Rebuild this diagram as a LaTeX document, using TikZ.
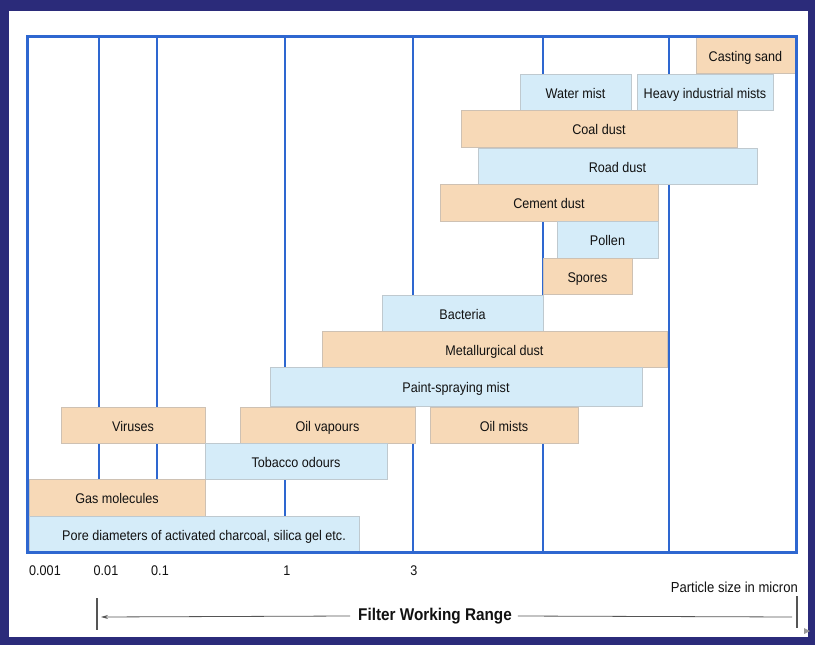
\documentclass[tikz,border=0pt]{standalone}
\usepackage{fontspec}
\setmainfont{Liberation Sans}[FakeStretch=0.9]
\usetikzlibrary{arrows.meta}
\definecolor{navy}{HTML}{2B2B7A}
\definecolor{frameblue}{HTML}{2E67D0}
\definecolor{obox}{HTML}{F7D9B7}
\definecolor{bbox}{HTML}{D5ECF9}
\definecolor{txt}{HTML}{111111}
\definecolor{rangegray}{HTML}{555555}
\tikzset{
  barbase/.style={inner sep=0pt, outer sep=0pt, line width=0.6pt, text=txt,
    text height=12pt, text depth=0pt,
    font=\fontsize{14}{16}\selectfont},
  orangebar/.style={barbase, fill=obox, draw=obox!70!black!60},
  bluebar/.style={barbase, fill=bbox, draw=bbox!70!black!60},
  gridline/.style={frameblue, line width=2pt},
  axislabel/.style={inner sep=0pt, text=txt, font=\fontsize{14}{16}\selectfont},
  rangeline/.style={rangegray, line width=0.8pt},
  rangebar/.style={rangegray, line width=2.2pt}
}
\newcommand{\bx}[7]{%
  \node[#2, minimum width={(#5-#3)*1pt}, minimum height={(#6-#4)*1pt}]
    (#1) at ({(#3+#5)/2},{(#4+#6)/2}) {#7};}
\begin{document}
\begin{tikzpicture}[x=1pt,y=-1pt]
\useasboundingbox (0,0) rectangle (815,645);
\fill[navy] (0,0) rectangle (815,645);
\fill[white] (9,11) rectangle (808,637);
% grid lines
\foreach \gx/\gn in {99/ga,157/gb,285/gc,413/gd,543/ge,669/gf}{
  \coordinate (\gn t) at (\gx,35);
  \coordinate (\gn b) at (\gx,552);
  \draw[gridline] (\gn t) -- (\gn b);
}
% bars
\bx{casting}{orangebar}{696}{37}{795}{73}{Casting sand}
\bx{water}{bluebar}{520}{74}{631}{110}{Water mist}
\bx{heavy}{bluebar}{637}{74}{773}{110}{Heavy industrial mists}
\bx{coal}{orangebar}{461}{110}{737}{147}{Coal dust}
\bx{road}{bluebar}{478}{148}{757}{184}{Road dust}
\bx{cement}{orangebar}{440}{184}{658}{221}{Cement dust}
\bx{pollen}{bluebar}{557}{221}{658}{258}{Pollen}
\bx{spores}{orangebar}{543}{258}{632}{294}{Spores}
\bx{bacteria}{bluebar}{382}{295}{543}{331}{Bacteria}
\bx{metal}{orangebar}{322}{331}{667}{367}{Metallurgical dust}
\bx{paint}{bluebar}{270}{367}{642}{406}{Paint-spraying mist}
\bx{viruses}{orangebar}{61}{407}{205}{443}{Viruses}
\bx{oilvap}{orangebar}{240}{407}{415}{443}{Oil vapours}
\bx{oilmist}{orangebar}{430}{407}{578}{443}{Oil mists}
\bx{tobacco}{bluebar}{205}{443}{387}{479}{Tobacco odours}
\bx{gas}{orangebar}{29}{479}{205}{516}{Gas molecules}
\bx{pore}{bluebar}{29}{516}{359}{552}{\hspace*{20pt}Pore diameters of activated charcoal, silica gel etc.}
% frame
\draw[frameblue, line width=3pt] (27,36) rectangle (796,552);
% axis labels
\node[axislabel] (l1) at (45,571) {0.001};
\node[axislabel] (l2) at (106,571) {0.01};
\node[axislabel] (l3) at (160,571) {0.1};
\node[axislabel] (l4) at (287,571) {1};
\node[axislabel] (l5) at (414,571) {3};
\node[axislabel, anchor=east, font=\fontsize{14.5}{16}\selectfont] (unit) at (798,587) {Particle size in micron};
% filter working range
\node[inner sep=0pt, text=txt, font=\fontsize{17}{19}\bfseries\selectfont] (fwr) at (435,616) {Filter Working Range};
\coordinate (lb1) at (97,598); \coordinate (lb2) at (97,630);
\coordinate (rb1) at (797,596); \coordinate (rb2) at (797,628);
\draw[rangebar] (lb1) -- (lb2);
\draw[rangebar] (rb1) -- (rb2);
\coordinate (arrowend) at (101,617);
\coordinate (rightend) at (792,617);
\draw[rangeline, -{Stealth[length=7pt,width=4pt]}] ([xshift=-8pt]fwr.west) -- (arrowend);
\draw[rangeline] ([xshift=6pt]fwr.east) -- (rightend);
\fill[gray!80] (804,628) -- (810,631) -- (804,634) -- cycle;
\end{tikzpicture}
\end{document}
